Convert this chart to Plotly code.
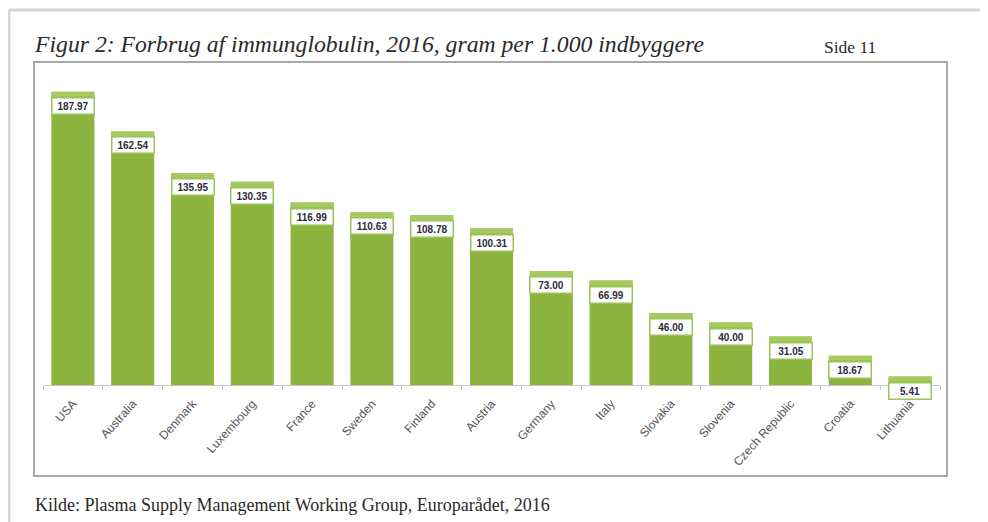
import plotly.graph_objects as go

countries = ["USA", "Australia", "Denmark", "Luxembourg", "France", "Sweden", "Finland",
             "Austria", "Germany", "Italy", "Slovakia", "Slovenia", "Czech Republic",
             "Croatia", "Lithuania"]
values = [187.97, 162.54, 135.95, 130.35, 116.99, 110.63, 108.78, 100.31,
          73.00, 66.99, 46.00, 40.00, 31.05, 18.67, 5.41]
value_labels = ["187.97", "162.54", "135.95", "130.35", "116.99", "110.63", "108.78",
                "100.31", "73.00", "66.99", "46.00", "40.00", "31.05", "18.67", "5.41"]

title_text = "Figur 2: Forbrug af immunglobulin, 2016, gram per 1.000 indbyggere"
page_text = "Side 11"
source_text = "Kilde: Plasma Supply Management Working Group, Europarådet, 2016"

BAR = "#8cb43f"
RIM = "#a6ca60"

fig = go.Figure()
fig.add_trace(go.Bar(x=countries, y=values, marker=dict(color=BAR, line=dict(width=0)),
                     width=0.72, hoverinfo="x+y"))

shapes = []
annotations = []
for i, (c, v, t) in enumerate(zip(countries, values, value_labels)):
    # lighter rim at top of bar
    shapes.append(dict(type="rect", xref="x", yref="y", x0=i - 0.36, x1=i + 0.36,
                       ysizemode="pixel", yanchor=v, y0=-5, y1=0,
                       fillcolor=RIM, line=dict(width=0), layer="above"))
    annotations.append(dict(x=c, y=v, xref="x", yref="y", text="<b>%s</b>" % t,
                            showarrow=False, yanchor="top", yshift=-5,
                            font=dict(family="Liberation Sans", size=10, color="#2b2b3a"),
                            bgcolor="white", bordercolor="#9cc25a", borderwidth=1.5,
                            borderpad=2, width=37))

# chart frame
shapes.append(dict(type="rect", xref="paper", yref="paper", x0=-0.010, x1=1.0078,
                   y0=-0.292, y1=1.035, line=dict(color="#a8a8a8", width=2),
                   fillcolor="rgba(0,0,0,0)", layer="below"))
# page shadow lines
shapes.append(dict(type="line", xref="paper", yref="paper", x0=-0.038, x1=1.1,
                   y0=1.202, y1=1.202, line=dict(color="#d6d6d6", width=3)))
shapes.append(dict(type="line", xref="paper", yref="paper", x0=-0.038, x1=-0.038,
                   y0=1.202, y1=-0.5, line=dict(color="#d6d6d6", width=3)))

annotations += [
    dict(text="<i>%s</i>" % title_text, xref="paper", yref="paper", x=-0.012, y=1.093,
         xanchor="left", yanchor="middle", showarrow=False,
         font=dict(family="Liberation Serif", size=23.7, color="#2a2a2a")),
    dict(text=page_text, xref="paper", yref="paper", x=0.868, y=1.083,
         xanchor="left", yanchor="middle", showarrow=False,
         font=dict(family="Liberation Serif", size=17.5, color="#2a2a2a")),
    dict(text=source_text, xref="paper", yref="paper", x=-0.011, y=-0.385,
         xanchor="left", yanchor="middle", showarrow=False,
         font=dict(family="Liberation Serif", size=18, color="#2a2a2a")),
]

fig.update_layout(
    width=988, height=522,
    margin=dict(l=35, r=56, t=65, b=145),
    paper_bgcolor="white", plot_bgcolor="white",
    showlegend=False, bargap=0.28,
    shapes=shapes, annotations=annotations,
    xaxis=dict(tickangle=-48, tickfont=dict(family="Liberation Sans", size=12, color="#555555"),
               showline=True, linecolor="#c8c8c8", linewidth=1,
               ticks="outside", tickson="boundaries", ticklen=4, tickcolor="#c8c8c8",
               ticklabelstandoff=6,
               showgrid=False, range=[-0.5, 14.5]),
    yaxis=dict(range=[0, 200], visible=False, showgrid=False, zeroline=False),
)

fig.write_html("out.html")
